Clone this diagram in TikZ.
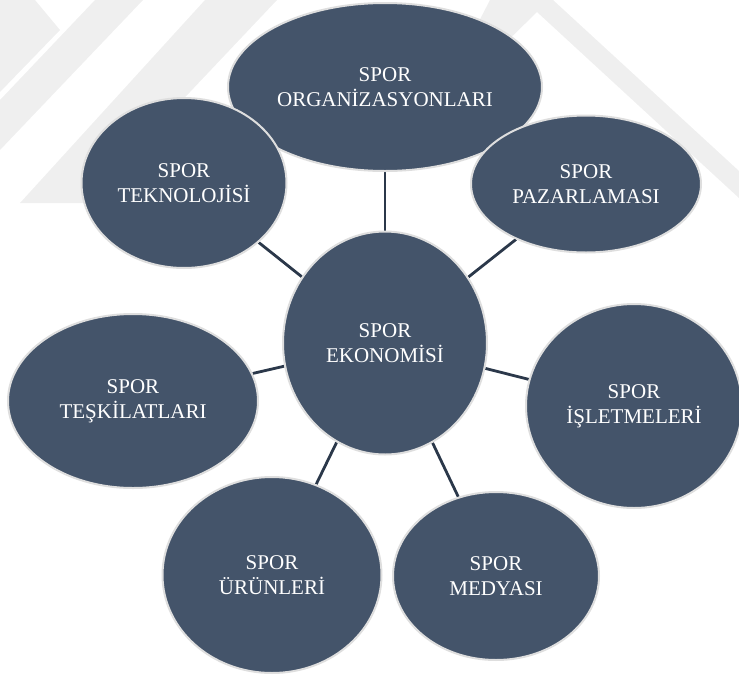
\documentclass[tikz,border=0pt]{standalone}
\usepackage{fontspec}
\setmainfont{Liberation Serif}
\usetikzlibrary{shapes.geometric,backgrounds}
\definecolor{bubblefill}{HTML}{44546A}
\definecolor{rimcol}{HTML}{DEDEDE}
\definecolor{linkcol}{HTML}{2B384A}
\definecolor{markcol}{HTML}{EFEFEF}
\begin{document}
\begin{tikzpicture}[x=1pt,y=-1pt,
  bubble/.style={ellipse, fill=bubblefill, draw=rimcol, line width=2pt, inner sep=0pt},
  caption/.style={text=white, align=center, inner sep=0pt, font=\fontsize{21}{25}\selectfont},
  linkline/.style={draw=linkcol, line width=2.8pt}]
\useasboundingbox (0,0) rectangle (739,675);
\clip (0,0) rectangle (739,675);

% outer ring of topics (the top one sits behind its neighbours)
\node[bubble, minimum width=314pt, minimum height=168pt] (org) at (385,87) {};
\node[bubble, minimum width=205pt, minimum height=170pt] (tek) at (184,183) {};
\node[bubble, minimum width=230pt, minimum height=137pt] (paz) at (586,184) {};
\node[bubble, minimum width=250pt, minimum height=174pt] (tes) at (133,401) {};
\node[bubble, minimum width=216pt, minimum height=204pt] (isl) at (634,406) {};
\node[bubble, minimum width=219pt, minimum height=196pt] (urun) at (272,575) {};
\node[bubble, minimum width=206pt, minimum height=168pt] (med) at (496,576) {};
% hub
\node[bubble, minimum width=204pt, minimum height=223pt] (eko) at (385,343) {};

% captions
\node[caption] (orgtxt) at (org) {SPOR\\ORGANİZASYONLARI};
\node[caption] (tektxt) at (tek) {SPOR\\TEKNOLOJİSİ};
\node[caption] (paztxt) at (paz) {SPOR\\PAZARLAMASI};
\node[caption] (testxt) at (tes) {SPOR\\TEŞKİLATLARI};
\node[caption] (isltxt) at (isl) {SPOR\\İŞLETMELERİ};
\node[caption] (uruntxt) at (urun) {SPOR\\ÜRÜNLERİ};
\node[caption] (medtxt) at (med) {SPOR\\MEDYASI};
\node[caption] (ekotxt) at (eko) {SPOR\\EKONOMİSİ};

\begin{scope}[on background layer]
  % faint chevron watermark
  \fill[markcol] (0,0) -- (35,0) -- (60,30) -- (0,92) -- cycle;
  \fill[markcol] (95,0) -- (143,0) -- (0,150) -- (0,100) -- cycle;
  \fill[markcol] (205,0) -- (277,0) -- (85,203) -- (20,203) -- cycle;
  \fill[markcol] (490,0) -- (553,0) -- (739,171) -- (739,198) -- (537,12) -- (490,58) -- (460,58) -- cycle;
  % spokes from the hub
  \foreach \n in {org,tek,paz,tes,isl,urun,med}
    \draw[linkline] (eko) -- (\n);
\end{scope}
\end{tikzpicture}
\end{document}
